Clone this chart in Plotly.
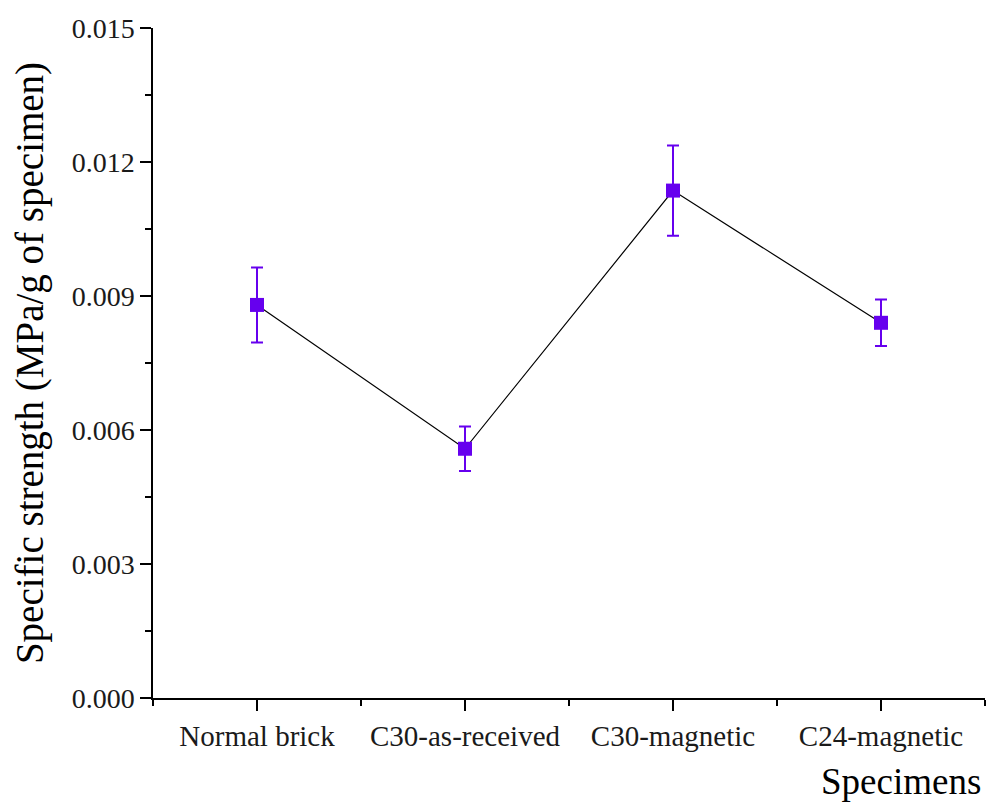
import plotly.graph_objects as go

categories = ["Normal brick", "C30-as-received", "C30-magnetic", "C24-magnetic"]
strength = [0.0088, 0.00558, 0.01136, 0.0084]
err = [0.00084, 0.0005, 0.00101, 0.00052]
y_ticks = [0.0, 0.003, 0.006, 0.009, 0.012, 0.015]

xpos = list(range(len(categories)))
purple = "#6600ee"

fig = go.Figure()
fig.add_trace(go.Scatter(
    x=xpos, y=strength,
    mode="lines+markers",
    line=dict(color="black", width=1.2),
    marker=dict(symbol="square", size=14, color=purple),
    error_y=dict(type="data", array=err, visible=True, color=purple, thickness=2, width=6),
    showlegend=False,
))

font_family = "Liberation Serif"
fig.update_layout(
    width=987, height=803,
    margin=dict(l=153, r=2, t=28, b=105),
    paper_bgcolor="white", plot_bgcolor="white",
    font=dict(family=font_family, color="black", size=20),
    xaxis=dict(
        range=[-0.5, 3.5],
        tickmode="array", tickvals=xpos, ticktext=categories,
        showgrid=False, zeroline=False,
        showline=True, linecolor="black", linewidth=1.5,
        ticks="outside", ticklen=11, tickwidth=1.5, tickcolor="black",
        tickfont=dict(family=font_family, size=29, color="#1a1a1a"),
        minor=dict(tickmode="array", tickvals=[-0.5, 0.5, 1.5, 2.5, 3.5],
                   ticks="outside", ticklen=6, tickwidth=1.5, tickcolor="black"),
    ),
    yaxis=dict(
        range=[0, 0.015],
        tickmode="array", tickvals=y_ticks, tickformat=".3f",
        showgrid=False, zeroline=False,
        showline=True, linecolor="black", linewidth=1.5,
        ticks="outside", ticklen=11, tickwidth=1.5, tickcolor="black",
        tickfont=dict(family=font_family, size=28, color="#1a1a1a"),
        minor=dict(tickmode="array", tickvals=[0.0015, 0.0045, 0.0075, 0.0105, 0.0135],
                   ticks="outside", ticklen=6, tickwidth=1.5, tickcolor="black"),
        title=dict(text="Specific strength (MPa/g of specimen)",
                   font=dict(family=font_family, size=39), standoff=16),
    ),
)
fig.add_annotation(
    text="Specimens", xref="paper", yref="paper", x=0.997, y=-0.125,
    xanchor="right", yanchor="middle", showarrow=False,
    font=dict(family=font_family, size=37, color="black"),
)
fig.write_html("out.html")
